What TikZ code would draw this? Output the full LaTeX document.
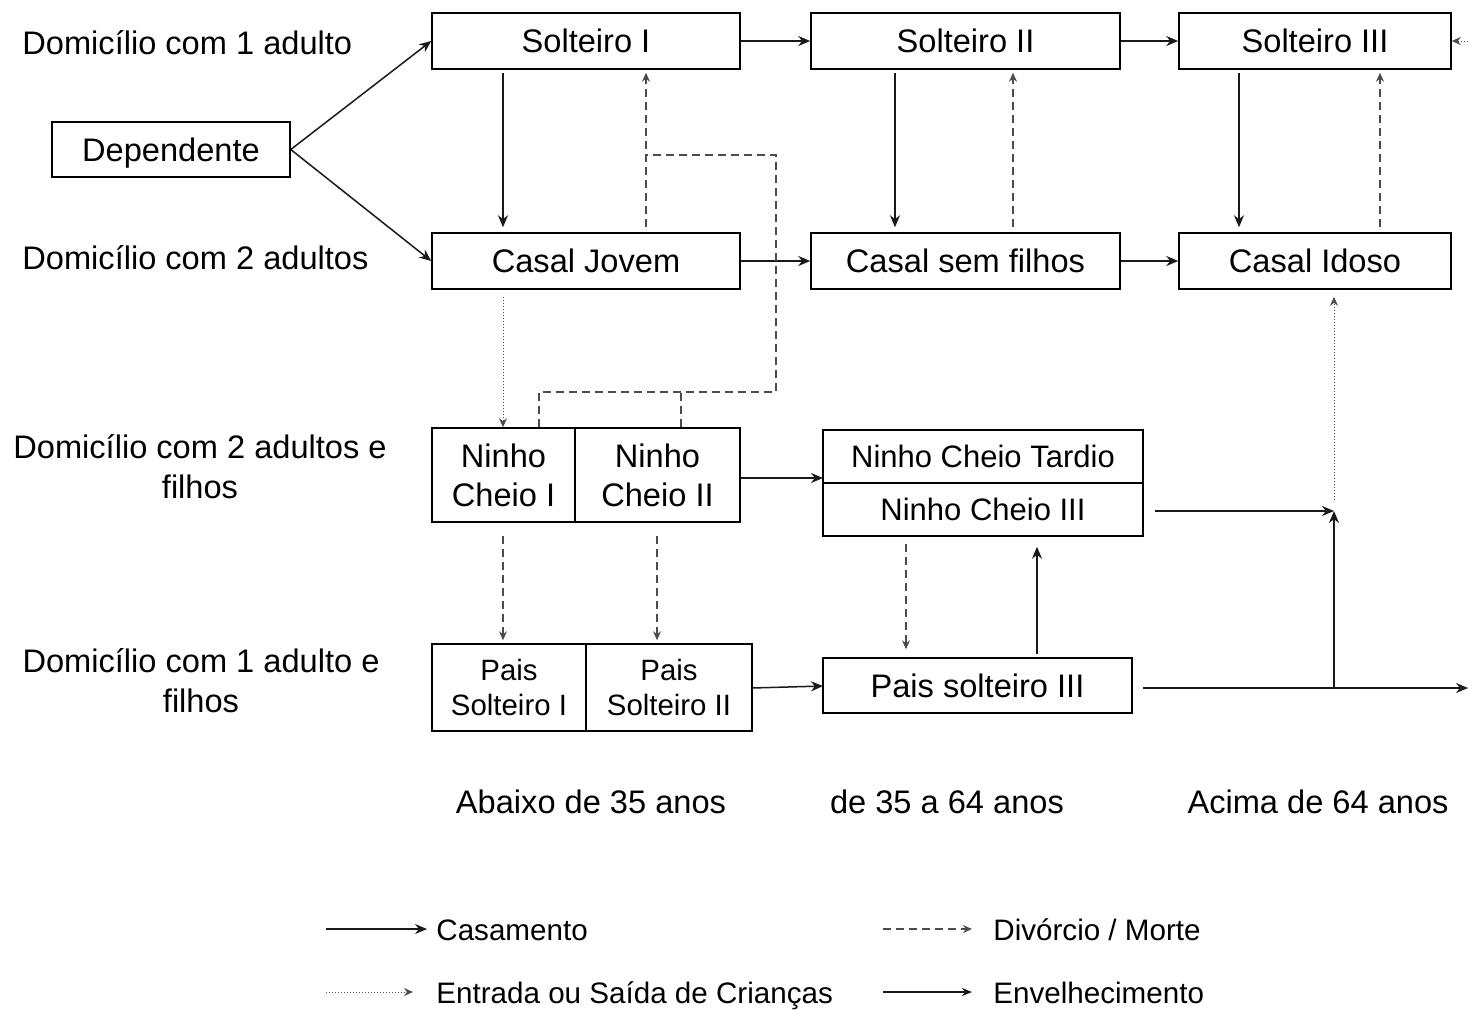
\documentclass[tikz,border=0pt]{standalone}
\usepackage{fontspec}
\setmainfont{Liberation Sans}
\usetikzlibrary{arrows.meta}
\begin{document}
\begin{tikzpicture}[x=0.5pt,y=-0.5pt,
  box/.style={draw=black,line width=0.75pt,inner sep=0pt,align=center,
    font=\fontsize{16.3}{19.5}\selectfont},
  lab/.style={inner sep=0pt,align=center,font=\fontsize{16.3}{20}\selectfont},
  cas/.style={line width=0.75pt,draw=black!90,-{Stealth[length=6pt,width=5pt]}},
  div/.style={line width=0.75pt,draw=black!70,dash pattern=on 4pt off 2.5pt,-{Stealth[length=4.5pt,width=4pt]}},
  divline/.style={line width=0.75pt,draw=black!70,dash pattern=on 4pt off 2.5pt},
  dotl/.style={line width=0.5pt,draw=black!70,densely dotted,-{Stealth[length=4.5pt,width=4pt]}},
  env/.style={line width=0.75pt,draw=black!90,-{Stealth[length=5pt,width=4pt]}},
  leg/.style={inner sep=0pt,anchor=base west,font=\fontsize{14.8}{18}\selectfont}]
\useasboundingbox (0,0) rectangle (1468,1009);

% boxes
\node[box,minimum width=119pt,minimum height=27.5pt,text depth=0pt] (dep) at (171,149.5) {Dependente};
\node[box,minimum width=154pt,minimum height=28pt] (s1) at (586,41) {Solteiro I};
\node[box,minimum width=154.5pt,minimum height=28pt] (s2) at (965.5,41) {Solteiro II};
\node[box,minimum width=136pt,minimum height=28pt] (s3) at (1315,41) {Solteiro III};
\node[box,minimum width=154pt,minimum height=28pt] (cj) at (586,261) {Casal Jovem};
\node[box,minimum width=154.5pt,minimum height=28pt] (csf) at (965.5,261) {Casal sem filhos};
\node[box,minimum width=136pt,minimum height=28pt] (ci) at (1315,261) {Casal Idoso};
\node[box,minimum width=71.5pt,minimum height=47pt] (n1) at (503.5,475) {Ninho\\Cheio I};
\node[box,minimum width=82.5pt,minimum height=47pt] (n2) at (657.5,475) {Ninho\\Cheio II};
\node[box,minimum width=160pt,minimum height=26.5pt,font=\fontsize{15.5}{18}\selectfont] (nt) at (983,456.5) {Ninho Cheio Tardio};
\node[box,minimum width=160pt,minimum height=26.5pt,font=\fontsize{15.5}{18}\selectfont] (n3) at (983,509.5) {Ninho Cheio III};
\node[box,minimum width=77pt,minimum height=43.5pt,font=\fontsize{14.7}{17.5}\selectfont] (p1) at (509,687.5) {Pais\\Solteiro I};
\node[box,minimum width=83pt,minimum height=43.5pt,font=\fontsize{14.7}{17.5}\selectfont] (p2) at (669,687.5) {Pais\\Solteiro II};
\node[box,minimum width=154.5pt,minimum height=27.5pt] (p3) at (977.5,685.5) {Pais solteiro III};

% row labels
\node[lab,anchor=west] (l1) at (22,43) {Domicílio com 1 adulto};
\node[lab,anchor=west] (l2) at (22,258) {Domicílio com 2 adultos};
\node[lab] (l3) at (200,467) {Domicílio com 2 adultos e\\filhos};
\node[lab] (l4) at (201,681) {Domicílio com 1 adulto e\\filhos};

% column labels
\node[lab] (a1) at (591,802) {Abaixo de 35 anos};
\node[lab] (a2) at (947,802) {de 35 a 64 anos};
\node[lab] (a3) at (1318,802) {Acima de 64 anos};

% column coordinates
\coordinate (x1) at (503,0);
\coordinate (x2) at (646,0);
\coordinate (x3) at (895,0);
\coordinate (x4) at (1013,0);
\coordinate (x5) at (1239,0);
\coordinate (x6) at (1380,0);
\coordinate (x7) at (657,0);
\coordinate (x8) at (906,0);
\coordinate (x9) at (1037,0);
\coordinate (xj) at (1334,511);
\coordinate (xe) at (1468,0);

% dependent
\draw[cas] (dep.east) -- (s1.west);
\draw[cas] (dep.east) -- (cj.west);

% horizontal marriage / aging
\draw[cas] (s1.east) -- (s2.west);
\draw[cas] (s2.east) -- (s3.west);
\draw[cas] (cj.east) -- (csf.west);
\draw[cas] (csf.east) -- (ci.west);

% vertical solid down
\draw[cas,shorten <=1.5pt,shorten >=2.5pt] (s1.south -| x1) -- (cj.north -| x1);
\draw[cas,shorten <=1.5pt,shorten >=2.5pt] (s2.south -| x3) -- (csf.north -| x3);
\draw[cas,shorten <=1.5pt,shorten >=2.5pt] (s3.south -| x5) -- (ci.north -| x5);

% dashed up
\draw[div,shorten <=2.5pt,shorten >=1.5pt] (cj.north -| x2) -- (s1.south -| x2);
\draw[div,shorten <=2.5pt,shorten >=1.5pt] (csf.north -| x4) -- (s2.south -| x4);
\draw[div,shorten <=2.5pt,shorten >=1.5pt] (ci.north -| x6) -- (s3.south -| x6);

% dashed from ninho to solteiro
\coordinate (j1) at (539,392);
\coordinate (j2) at (681,392);
\coordinate (j3) at (776,392);
\coordinate (j4) at (776,155);
\coordinate (j5) at (646,155);
\draw[divline] (n1.north -| j1) -- (j1) -- (j3) -- (j4) -- (j5);
\draw[divline] (n2.north -| j2) -- (j2);

% dotted casal jovem -> ninho
\draw[dotl,shorten <=3.5pt] (cj.south -| x1) -- (n1.north -| x1);

% ninho -> ninho tardio
\coordinate (nta) at (823,478);
\draw[cas] (n2.east |- nta) -- (nta);

% ninho dashed down
\draw[div,shorten <=6.5pt,shorten >=1.5pt] (n1.south -| x1) -- (p1.north -| x1);
\draw[div,shorten <=6.5pt,shorten >=1.5pt] (n2.south -| x7) -- (p2.north -| x7);
\draw[div,shorten <=3.5pt,shorten >=4pt] (n3.south -| x8) -- (p3.north -| x8);

% pais III up to ninho III
\draw[cas,shorten <=1.5pt,shorten >=5pt] (p3.north -| x9) -- (n3.south -| x9);

% pais II -> pais III
\coordinate (pa) at (752,688);
\coordinate (pb) at (823,686);
\draw[cas] (pa) -- (pb);

% ninho III -> junction
\coordinate (n3r) at (1155,511);
\draw[cas] (n3r) -- (xj);
% pais III -> right edge and up
\coordinate (pr) at (1143,688);
\coordinate (pq) at (1334,688);
\draw[line width=0.75pt,draw=black!90] (pr) -- (pq);
\draw[cas] (pq) -- (pq -| xe);
\draw[cas] (pq) -- (xj);
% dotted up to casal idoso
\coordinate (dj) at (1334,500);
\draw[dotl,shorten >=3.5pt] (dj) -- (ci.south -| dj);
% dotted into solteiro III from right
\coordinate (sr) at (1468,41);
\draw[dotl] (sr) -- (s3.east);

% legend
\coordinate (la1) at (326,929); \coordinate (la2) at (427,929);
\coordinate (lb1) at (883,929); \coordinate (lb2) at (972,929);
\coordinate (lc1) at (326,992); \coordinate (lc2) at (413,992);
\coordinate (ld1) at (883,992); \coordinate (ld2) at (972,992);
\draw[cas] (la1) -- (la2);
\draw[div] (lb1) -- (lb2);
\draw[dotl] (lc1) -- (lc2);
\draw[env] (ld1) -- (ld2);
\node[leg] (t1) at (436,940) {Casamento};
\node[leg] (t2) at (993,940) {Divórcio / Morte};
\node[leg] (t3) at (436,1003) {Entrada ou Saída de Crianças};
\node[leg] (t4) at (993,1003) {Envelhecimento};
\end{tikzpicture}
\end{document}
